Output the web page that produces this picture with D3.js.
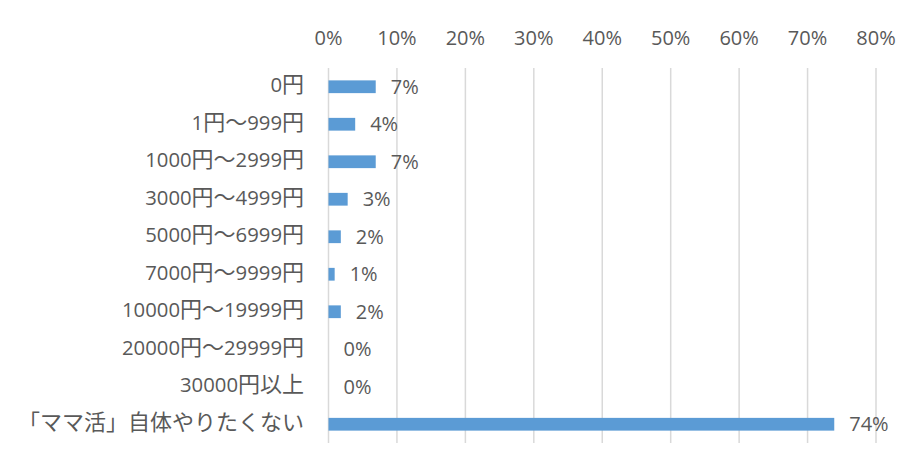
<!DOCTYPE html>
<html>
<head>
<meta charset="utf-8">
<script src="https://cdn.jsdelivr.net/npm/d3@7"></script>
<style>
  body { margin: 0; background: #fff; }
  text { font-family: "Open Sans", "Noto Sans CJK JP", sans-serif; fill: #595959; }
</style>
</head>
<body>
<div id="chart"></div>
<script>
const categories = [
  '0円', '1円〜999円', '1000円〜2999円', '3000円〜4999円', '5000円〜6999円',
  '7000円〜9999円', '10000円〜19999円', '20000円〜29999円', '30000円以上',
  '「ママ活」自体やりたくない'
];
const values = [0.069, 0.039, 0.069, 0.028, 0.018, 0.009, 0.018, 0, 0, 0.739];
const ticks = [0, 0.1, 0.2, 0.3, 0.4, 0.5, 0.6, 0.7, 0.8];

const width = 920, height = 466;

const svg = d3.select('#chart').append('svg')
  .attr('width', width)
  .attr('height', height);

const x = d3.scaleLinear().domain([0, 0.8]).range([328.5, 876]);
const y = d3.scaleBand().domain(categories).range([68, 443])
  .paddingInner(0.66).paddingOuter(0.33);

const pct = d3.format('.0%');

// gridlines
svg.selectAll('line.grid')
  .data(ticks)
  .enter()
  .append('line')
  .attr('class', 'grid')
  .attr('x1', d => x(d))
  .attr('x2', d => x(d))
  .attr('y1', 68)
  .attr('y2', 443)
  .attr('stroke', '#d9d9d9')
  .attr('stroke-width', 1.5);

// top tick labels
svg.selectAll('text.tick')
  .data(ticks)
  .enter()
  .append('text')
  .attr('class', 'tick')
  .attr('x', d => x(d))
  .attr('y', 38)
  .attr('dy', '0.35em')
  .attr('text-anchor', 'middle')
  .style('font-size', '20px')
  .text(d => pct(d));

// category labels - digits and kana/kanji sized separately (kana run wider in the original)
const cat = svg.selectAll('text.cat')
  .data(categories)
  .enter()
  .append('text')
  .attr('class', 'cat')
  .attr('x', 304)
  .attr('y', d => y(d) + y.bandwidth() / 2)
  .attr('dy', '0.35em')
  .attr('text-anchor', 'end');

cat.selectAll('tspan')
  .data(d => d.match(/\d+|\D+/g))
  .enter()
  .append('tspan')
  .style('font-size', d => /\d/.test(d) ? '20.3px' : '22px')
  .text(d => d);

// bars
svg.selectAll('rect.bar')
  .data(values)
  .enter()
  .append('rect')
  .attr('class', 'bar')
  .attr('x', x(0))
  .attr('y', (d, i) => y(categories[i]))
  .attr('width', d => x(d) - x(0))
  .attr('height', y.bandwidth())
  .attr('fill', '#5b9bd5');

// value labels
svg.selectAll('text.val')
  .data(values)
  .enter()
  .append('text')
  .attr('class', 'val')
  .attr('x', d => x(d) + 15)
  .attr('y', (d, i) => y(categories[i]) + y.bandwidth() / 2)
  .attr('dy', '0.35em')
  .style('font-size', '20px')
  .text(d => pct(d));
</script>
</body>
</html>
